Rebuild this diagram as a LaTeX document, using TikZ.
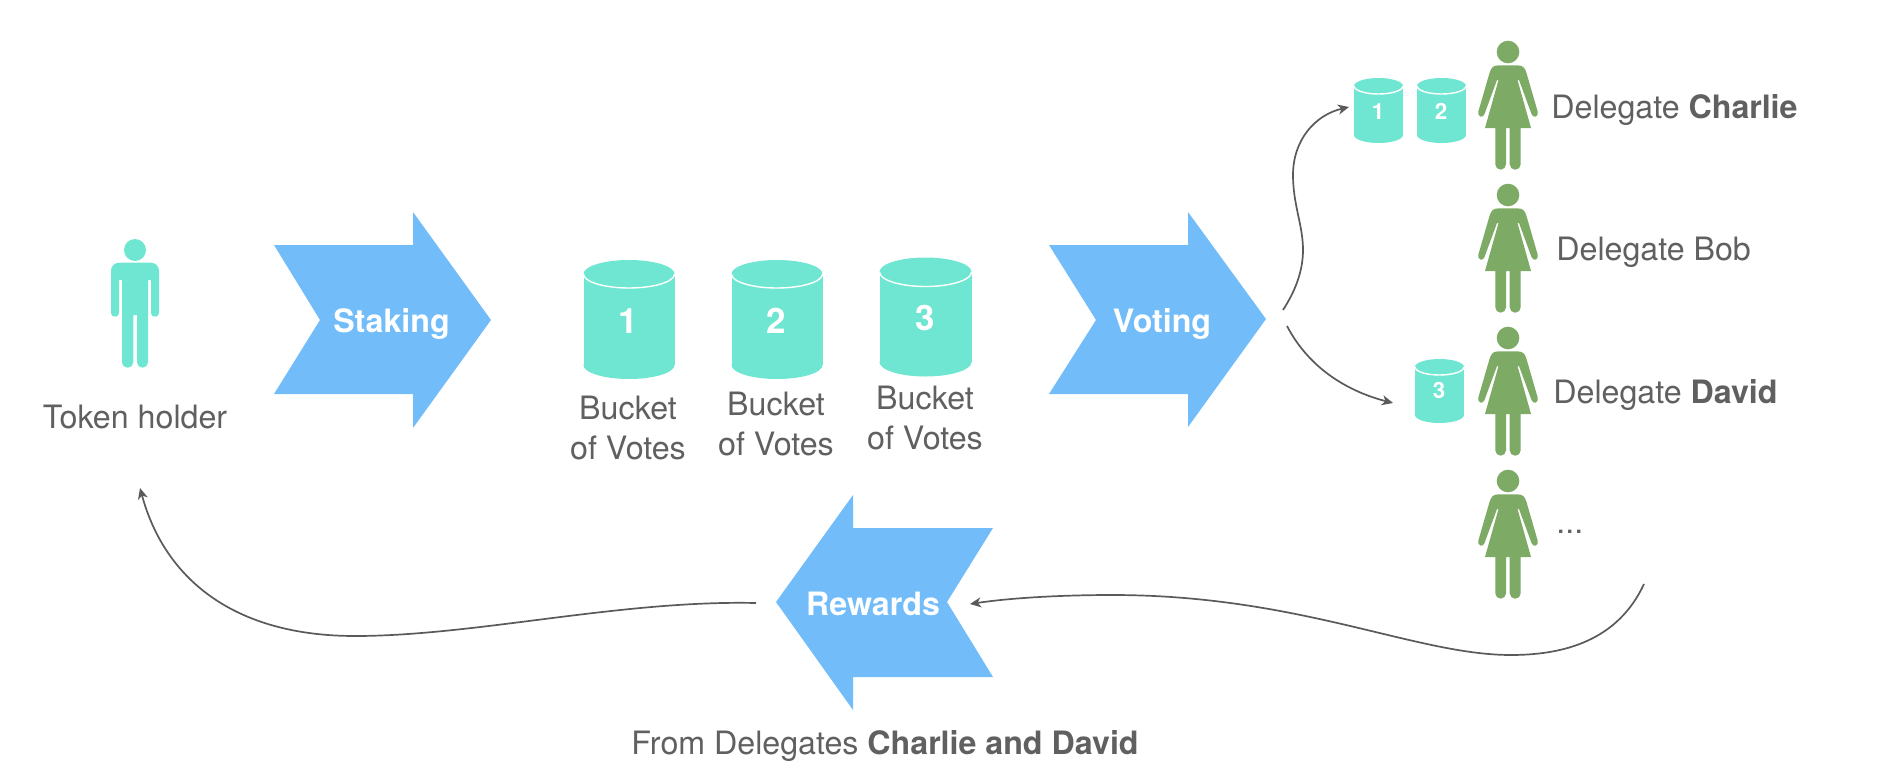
\documentclass[tikz,border=0pt]{standalone}
\usepackage{fontspec}
\setmainfont{TeX Gyre Heros}
\usepackage{xcolor}
\usetikzlibrary{
    positioning,    % For the labels under the buckets
    arrows.meta     % For the Stealth tips on the curves
}
\definecolor{chevronblue}{RGB}{114, 189, 249}
\definecolor{bucketteal}{RGB}{110, 230, 210}
\definecolor{delegategreen}{RGB}{125, 170, 100}
\definecolor{textgray}{RGB}{96, 96, 96}
\definecolor{linegray}{RGB}{90, 90, 90}

\begin{document}
\begin{tikzpicture}[
    x=0.5pt, y=-0.5pt, % One unit is one pixel of the layout, y pointing down
    % Styles
    chevron_box/.style={fill=chevronblue},
    chevron_text/.style={
        font=\fontsize{16.1}{20}\selectfont\bfseries,
        text=white, inner sep=0pt, anchor=base
    },
    caption_text/.style={
        font=\fontsize{16.1}{20}\selectfont,
        text=textgray, inner sep=0pt, align=center
    },
    big_digit/.style={
        font=\fontsize{17.5}{20}\selectfont\bfseries,
        text=white, inner sep=0pt, anchor=base
    },
    small_digit/.style={
        font=\fontsize{11.2}{12}\selectfont\bfseries,
        text=white, inner sep=0pt, anchor=base
    },
    flow_arrow/.style={
        -{Stealth[length=5.5pt, width=5pt, inset=1.6pt]},
        line width=0.85pt, linegray
    },
    % Bucket: x radius / y radius / height of the side, origin in the lid
    pics/bucket/.style args={#1/#2/#3}{code={
        \fill[bucketteal] (0,0) ellipse [x radius=#1, y radius=#2];
        \fill[bucketteal] (0,#3) ellipse [x radius=#1, y radius=#2];
        \fill[bucketteal] (-#1,0) rectangle (#1,#3);
        \draw[white, line width=0.7pt] (-#1,0) arc [start angle=180, end angle=0, x radius=#1, y radius=#2];
    }},
    % Figures, origin in the centre of the head
    pics/holder/.style={code={
        \fill[bucketteal] (0,0) circle [radius=11];
        \fill[bucketteal] (-13,30) -- (-16,30)
            [rounded corners=1.9pt] -- (-16,66.7) -- (-24,66.7)
            [rounded corners=4pt] -- (-24,12.7) -- (24,12.7)
            [rounded corners=1.9pt] -- (24,66.7) -- (16,66.7)
            [sharp corners] -- (16,30) -- (13,30)
            [rounded corners=2.7pt] -- (13,117.7) -- (2,117.7)
            [sharp corners] -- (2,65) -- (-1.7,65)
            [rounded corners=2.7pt] -- (-1.7,117.7) -- (-13,117.7)
            [sharp corners] -- cycle;
    }},
    pics/woman/.style={code={
        \fill[delegategreen] (0,0) circle [radius=11.3];
        \fill[delegategreen] (-10,13.4) -- (10,13.4)
            .. controls (15,13.4) and (17,16) .. (18.5,21)
            -- (29.5,59) .. controls (31,65.5) and (25,66.5) .. (23.5,62)
            -- (11,28) -- (9.5,28) -- (23,76) -- (12.7,76)
            [rounded corners=2.7pt] -- (12.7,117.7) -- (1.7,117.7)
            [sharp corners] -- (1.7,76) -- (-2,76)
            [rounded corners=2.7pt] -- (-2,117.7) -- (-12.7,117.7)
            [sharp corners] -- (-12.7,76) -- (-23,76) -- (-9.5,28) -- (-11,28)
            -- (-23.5,62) .. controls (-25,66.5) and (-31,65.5) .. (-29.5,59)
            -- (-18.5,21) .. controls (-17,16) and (-15,13.4) .. (-10,13.4) -- cycle;
    }}
]

% Keep the margins of the layout
\useasboundingbox (0,0) rectangle (1886,782);

% --- Token holder ---
\pic (holder) at (135,250) {holder};
\node[caption_text, anchor=base] (holder_label) at (135,428) {Token holder};

% --- Staking ---
\fill[chevron_box] (274,245) -- (413,245) -- (413,212) -- (491,320) -- (413,428) -- (413,394) -- (274,394) -- (320,320) -- cycle;
\node[chevron_text] (staking) at (391.5,332) {Staking};

% --- Buckets ---
\pic (bucket1) at (629,274) {bucket=45.5/14/91};
\pic (bucket2) at (777,274) {bucket=45.5/14/91};
\pic (bucket3) at (925.5,272) {bucket=46/14.5/90};
\node[big_digit] (num1) at (628,333) {1};
\node[big_digit] (num2) at (776,333) {2};
\node[big_digit] (num3) at (925,330) {3};
\node[caption_text, below=31pt of num1] (votes1) {Bucket\\of Votes};
\node[caption_text, below=29pt of num2] (votes2) {Bucket\\of Votes};
\node[caption_text, below=27.5pt of num3] (votes3) {Bucket\\of Votes};

% --- Voting ---
\fill[chevron_box] (1049,245) -- (1188,245) -- (1188,212) -- (1266,319) -- (1188,427) -- (1188,394) -- (1049,394) -- (1096,320) -- cycle;
\node[chevron_text] (voting) at (1162,332) {Voting};

% --- Delegates ---
\foreach \wname/\wy in {charlie/52, bob/195, david/338, rest/481} {
    \pic (w\wname) at (1508,\wy) {woman};
}
\node[caption_text, anchor=base west] (charlie) at (1551,118) {Delegate \textbf{Charlie}};
\node[caption_text, anchor=base west] (bob) at (1556,260) {Delegate Bob};
\node[caption_text, anchor=base west] (david) at (1553,403) {Delegate \textbf{David}};
\node[caption_text, anchor=base west] (rest) at (1556,533) {...};

% --- Buckets handed to the delegates ---
\pic (small1) at (1378.5,86) {bucket=24.5/8/49};
\pic (small2) at (1441.5,86) {bucket=24.5/8/49};
\pic (small3) at (1439.5,367) {bucket=24.5/8/48};
\node[small_digit] (snum1) at (1378,119) {1};
\node[small_digit] (snum2) at (1441,119) {2};
\node[small_digit] (snum3) at (1439,398) {3};

% --- Rewards ---
\fill[chevron_box] (776,602) -- (853,495) -- (853,528) -- (993,528) -- (947,602) -- (993,677) -- (853,677) -- (853,710) -- cycle;
\node[chevron_text] (rewards) at (873,615) {Rewards};
\node[caption_text, anchor=base] (rewards_label) at (885,754) {From Delegates \textbf{Charlie and David}};

% --- Curves ---
\coordinate (vote_up) at (1283,310);
\coordinate (vote_down) at (1287,326);
\coordinate (to_small1) at (1349,107);
\coordinate (to_small3) at (1393,403);
\coordinate (from_rest) at (1644,584);
\coordinate (to_rewards) at (970,604);
\coordinate (from_rewards) at (756,603);
\coordinate (to_holder) at (140,488);

\draw[flow_arrow] (vote_up) .. controls (1296,290) and (1303,270) .. (1303,250)
    .. controls (1303,225) and (1293,205) .. (1293,175)
    .. controls (1293,140) and (1315,115) .. (to_small1);
\draw[flow_arrow] (vote_down) .. controls (1310,370) and (1350,392) .. (to_small3);
\draw[flow_arrow] (from_rest) .. controls (1618,640) and (1565,655) .. (1511,655)
    .. controls (1415,655) and (1300,595) .. (1112,595)
    .. controls (1060,595) and (1010,598) .. (to_rewards);
\draw[flow_arrow] (from_rewards) .. controls (620,600) and (475,636) .. (355,636)
    .. controls (235,636) and (165,580) .. (to_holder);

\end{tikzpicture}
\end{document}
